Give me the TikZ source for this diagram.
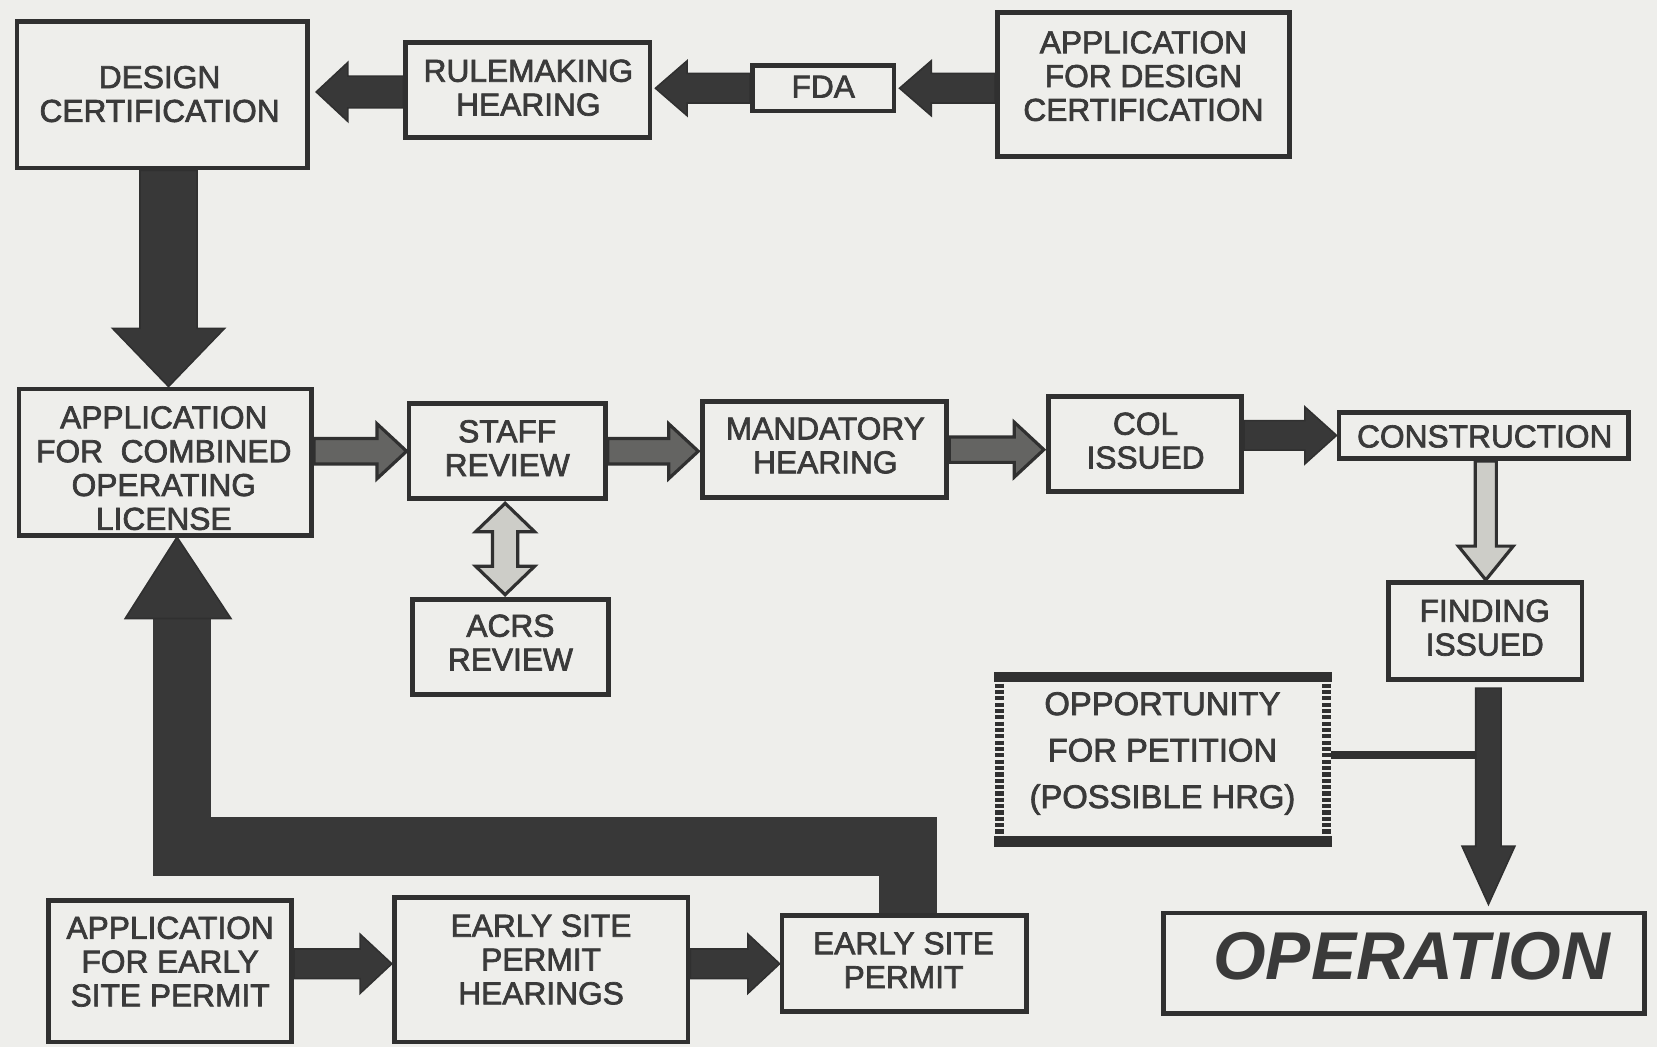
\documentclass[tikz,border=0pt]{standalone}
\usepackage{fontspec}
\setmainfont{Liberation Sans}
\newfontfamily\lblfont{Liberation Sans}[FakeBold=2.2]
\usetikzlibrary{calc}
\definecolor{paper}{RGB}{238,238,235}
\definecolor{ink}{RGB}{48,48,48}
\definecolor{inktext}{RGB}{58,58,58}
\definecolor{midfill}{RGB}{100,100,98}
\definecolor{lightfill}{RGB}{205,205,200}
\definecolor{darkfill}{RGB}{56,56,56}

% block arrow: style, from, to, shaft half width, head half width, head length
\newcommand{\blockarrow}[6]{%
  \path (#2) coordinate (ba-s) (#3) coordinate (ba-e);
  \path ($(ba-e)!#6!(ba-s)$) coordinate (ba-h);
  \path[#1] ($(ba-s)!#4!90:(ba-e)$) -- ($(ba-h)!#4!-90:(ba-s)$)
    -- ($(ba-h)!#5!-90:(ba-s)$) -- (ba-e)
    -- ($(ba-h)!#5!90:(ba-s)$) -- ($(ba-h)!#4!90:(ba-s)$)
    -- ($(ba-s)!#4!-90:(ba-e)$) -- cycle;}
% double-headed block arrow, same arguments
\newcommand{\dblockarrow}[6]{%
  \path (#2) coordinate (ba-s) (#3) coordinate (ba-e);
  \path ($(ba-e)!#6!(ba-s)$) coordinate (ba-h) ($(ba-s)!#6!(ba-e)$) coordinate (ba-g);
  \path[#1] (ba-s) -- ($(ba-g)!#5!90:(ba-e)$) -- ($(ba-g)!#4!90:(ba-e)$)
    -- ($(ba-h)!#4!-90:(ba-s)$) -- ($(ba-h)!#5!-90:(ba-s)$) -- (ba-e)
    -- ($(ba-h)!#5!90:(ba-s)$) -- ($(ba-h)!#4!90:(ba-s)$)
    -- ($(ba-g)!#4!-90:(ba-e)$) -- ($(ba-g)!#5!-90:(ba-e)$) -- cycle;}

\begin{document}
\begin{tikzpicture}[x=1pt,y=-1pt,
  box/.style={draw=ink, line width=4.5pt, fill=paper, inner sep=0pt},
  lbl/.style={text=inktext, font=\lblfont\fontsize{30}{32}\selectfont, align=center, inner sep=0pt},
  darrow/.style={fill=darkfill, draw=ink, line width=1.5pt, line join=miter},
  marrow/.style={fill=midfill, draw=ink, line width=3pt},
  larrow/.style={fill=lightfill, draw=ink, line width=3pt},
  band/.style={draw=darkfill, line width=55pt, line join=miter},
]
\useasboundingbox (0,0) rectangle (1568,991);
\fill[paper] (0,0) rectangle (1568,991);

% boxes
\node[box, minimum width=275pt, minimum height=139pt] (dc)    at (153.5,89.5) {};
\node[box, minimum width=231pt, minimum height=90pt]  (rule)  at (499.5,85) {};
\node[box, minimum width=134pt, minimum height=43pt]  (fda)   at (779,83.5) {};
\node[box, minimum width=276pt, minimum height=136pt] (appdc) at (1082,80) {};
\node[box, minimum width=277pt, minimum height=139pt] (app)   at (156.5,437.5) {};
\node[box, minimum width=186pt, minimum height=90pt]  (staff) at (480,427) {};
\node[box, minimum width=231pt, minimum height=91pt]  (mand)  at (780.5,425.5) {};
\node[box, minimum width=183pt, minimum height=90pt]  (col)   at (1083.5,420) {};
\node[box, minimum width=274pt, minimum height=44pt]  (cons)  at (1404,412) {};
\node[box, minimum width=186pt, minimum height=90pt]  (acrs)  at (483,612) {};
\node[box, minimum width=183pt, minimum height=92pt]  (find)  at (1405.5,597) {};
\node[inner sep=0pt, minimum width=309pt, minimum height=155pt] (opp) at (1100.5,718.5) {};
\node[box, minimum width=455pt, minimum height=95pt]  (oper)  at (1328.5,911.5) {};
\node[box, minimum width=230pt, minimum height=134pt] (appesp) at (161,919) {};
\node[box, minimum width=278pt, minimum height=137pt] (hear)  at (512,917.5) {};
\node[box, minimum width=231pt, minimum height=91pt]  (esp)   at (855.5,911.5) {};

% petition box border: solid top and bottom, broken sides
\draw[ink, line width=10pt] ($(opp.north west)+(-5,0)$) -- ($(opp.north east)+(5,0)$);
\draw[ink, line width=10pt] ($(opp.south west)+(-5,0)$) -- ($(opp.south east)+(5,0)$);
\draw[ink, line width=8pt, dash pattern=on 4pt off 2pt] (opp.north west) -- (opp.south west);
\draw[ink, line width=8pt, dash pattern=on 4pt off 2pt] (opp.north east) -- (opp.south east);

% design certification path
\blockarrow{darrow}{fda.east -| appdc.west}{$(fda.east)+(3,0)$}{14pt}{26pt}{30pt}
\blockarrow{darrow}{fda.west}{$(fda.west -| rule.east)+(3,0)$}{14pt}{26pt}{30pt}
\blockarrow{darrow}{$(rule.west)+(0,2)$}{$(rule.west -| dc.east)+(6,2)$}{15pt}{28pt}{30pt}
\blockarrow{darrow}{$(dc.south)+(6,0)$}{$(dc.south |- app.north)+(6,0)$}{27pt}{53pt}{55pt}

% combined license path
\blockarrow{marrow}{staff.west -| app.east}{staff.west}{12pt}{26pt}{28pt}
\blockarrow{marrow}{staff.east}{$(staff.east -| mand.west)+(-2,0)$}{12pt}{26pt}{28pt}
\blockarrow{marrow}{mand.east}{$(mand.east -| col.west)+(-2,0)$}{12pt}{26pt}{28pt}
\blockarrow{darrow}{cons.west -| col.east}{cons.west}{14pt}{27pt}{30pt}
\blockarrow{larrow}{$(cons.south)+(2,0)$}{$(cons.south |- find.north)+(2,0)$}{10pt}{26pt}{32pt}
\dblockarrow{larrow}{$(staff.south)+(-2,2)$}{$(staff.south |- acrs.north)+(-2,-2)$}{12pt}{28pt}{27pt}

% petition link and final arrow
\draw[ink, line width=7pt] ($(opp.east)+(4,-4)$) -- ($(opp.east -| find.south)+(3,-4)$);
\blockarrow{darrow}{$(find.south)+(3,6)$}{$(find.south |- oper.north)+(3,-6)$}{12pt}{25pt}{55pt}

% early site permit path
\coordinate (esprow) at (0,912);
\coordinate (bandrow) at (0,801);
\blockarrow{darrow}{appesp.east |- esprow}{hear.west |- esprow}{14pt}{28pt}{30pt}
\blockarrow{darrow}{hear.east |- esprow}{esp.west |- esprow}{14pt}{28pt}{30pt}
\draw[band] ($(esp.north)+(4,0)$) -- ($(esp.north |- bandrow)+(4,0)$)
  -- ($(app.south |- bandrow)+(16,0)$) -- ($(app.south)+(16,76)$);
\filldraw[fill=darkfill, draw=ink, line width=1.5pt]
  ($(app.south)+(-38,76)$) -- ($(app.south)+(11,-1)$) -- ($(app.south)+(62,76)$) -- cycle;

% labels
\node[lbl] (dc-t)     at (151,89)     {DESIGN\\CERTIFICATION};
\node[lbl] (rule-t)   at (500,83)     {RULEMAKING\\HEARING};
\node[lbl] (fda-t)    at (779,82)     {FDA};
\node[lbl] (appdc-t)  at (1082,72)    {APPLICATION\\FOR DESIGN\\CERTIFICATION};
\node[lbl] (app-t)    at (155,443)    {APPLICATION\\FOR~~COMBINED\\OPERATING\\LICENSE};
\node[lbl] (staff-t)  at (480,424)    {STAFF\\REVIEW};
\node[lbl] (mand-t)   at (781,421.5)  {MANDATORY\\HEARING};
\node[lbl] (col-t)    at (1084,417)   {COL\\ISSUED};
\node[lbl] (cons-t)   at (1405,413)   {CONSTRUCTION};
\node[lbl] (acrs-t)   at (483,608)    {ACRS\\REVIEW};
\node[lbl] (find-t)   at (1405,594)   {FINDING\\ISSUED};
\node[lbl, font=\lblfont\fontsize{31}{44}\selectfont] (opp-t) at (1100,713)
  {OPPORTUNITY\\FOR PETITION\\(POSSIBLE HRG)};
\node[text=inktext, font=\fontsize{64}{70}\selectfont\bfseries\itshape, inner sep=0pt]
  (oper-t) at (1336,905) {OPERATION};
\node[lbl] (appesp-t) at (161,910)    {APPLICATION\\FOR EARLY\\SITE PERMIT};
\node[lbl] (hear-t)   at (512,908)    {EARLY SITE\\PERMIT\\HEARINGS};
\node[lbl] (esp-t)    at (855,908.5)  {EARLY SITE\\PERMIT};
\end{tikzpicture}
\end{document}
